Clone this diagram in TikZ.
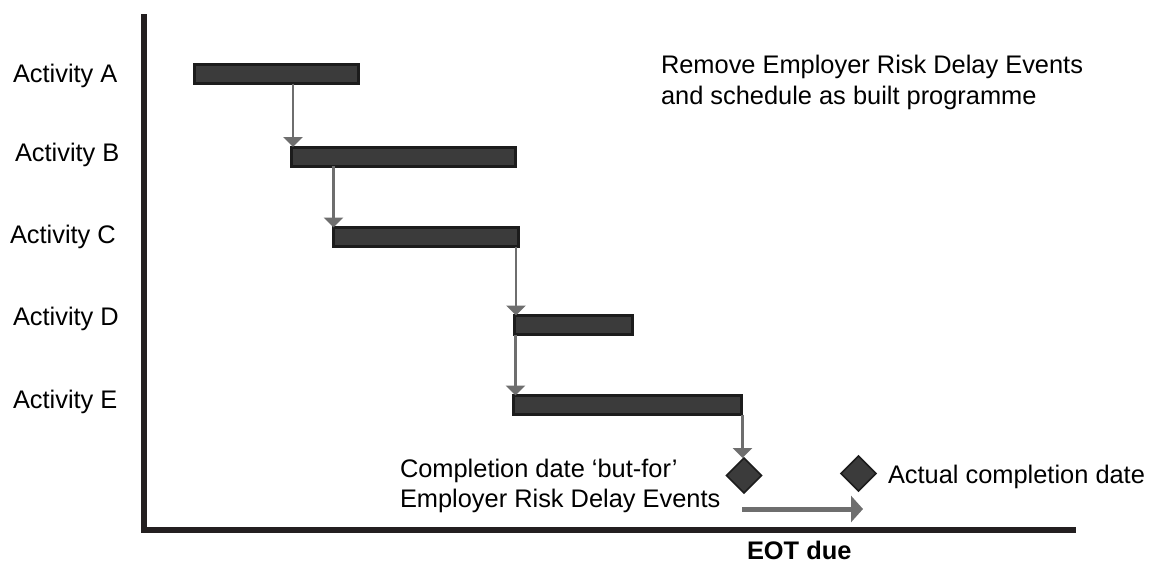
\documentclass[tikz,border=0pt]{standalone}
\usepackage{fontspec}
\setmainfont{Liberation Sans}
\usetikzlibrary{arrows.meta,shapes.geometric}
\definecolor{barfill}{HTML}{3B3B3B}
\definecolor{barline}{HTML}{1C1C1C}
\definecolor{linkgray}{HTML}{6E6E6E}
\definecolor{axisc}{HTML}{231F20}
\tikzset{
  lbl/.style={inner sep=0pt, outer sep=0pt, anchor=base west, font=\fontsize{25.4}{30}\selectfont, align=left},
  bar/.style={draw=barline, fill=barfill, line width=3pt, inner sep=0pt, outer sep=0pt, minimum height=19pt, anchor=north west},
  link/.style={draw=linkgray, line width=2.5pt, -{Triangle[length=10pt,width=19pt]}},
  bigarrow/.style={draw=linkgray, line width=5pt, -{Triangle[length=12pt,width=26pt]}},
  milestone/.style={diamond, aspect=1, draw=barline, fill=barfill, line width=1.5pt, inner sep=0pt, outer sep=0pt, minimum width=35pt, minimum height=35pt},
  axisline/.style={draw=axisc, line width=6pt, line join=miter}
}
\begin{document}
\begin{tikzpicture}[x=1pt,y=-1pt]
\useasboundingbox (0,0) rectangle (1151,563);
% axes
\coordinate (top) at (143.5,14);
\coordinate (origin) at (143.5,530);
\coordinate (right) at (1076,530);
\draw[axisline] (top) -- (origin) -- (right);
% labels
\node[lbl] (la) at (13,82) {Activity A};
\node[lbl] (lb) at (15,161) {Activity B};
\node[lbl] (lc) at (10,243) {Activity C};
\node[lbl] (ld) at (13,325) {Activity D};
\node[lbl] (le) at (13,408) {Activity E};
% bars
\node[bar, minimum width=164pt] (A) at (194.5,64.5) {};
\node[bar, minimum width=224pt] (B) at (291.5,147) {};
\node[bar, minimum width=185pt] (C) at (333.5,227.5) {};
\node[bar, minimum width=118pt] (D) at (514.5,315.5) {};
\node[bar, minimum width=228pt] (E) at (513.5,395.5) {};
% milestones
\node[milestone] (m1) at (744,475.5) {};
\node[milestone] (m2) at (858.5,473.5) {};
% links
\draw[link] ([xshift=1.5pt]B.north west |- A.south) -- ([xshift=1.5pt]B.north west);
\draw[link] (C.north west |- B.south) -- (C.north west);
\draw[link] ([xshift=1.5pt]D.north west |- C.south) -- ([xshift=1.5pt]D.north west);
\draw[link] ([xshift=2pt]E.north west |- D.south) -- ([xshift=2pt]E.north west);
\draw[link] ([xshift=-1.5pt]m1.north |- E.south) -- ([xshift=-1.5pt]m1.north);
% EOT arrow
\coordinate (eots) at (742,509);
\coordinate (eote) at (863,509);
\draw[bigarrow] (eots) -- (eote);
% texts
\node[lbl, font=\fontsize{25.4}{31}\selectfont] (note) at (661,104) {Remove Employer Risk Delay Events\\and schedule as built programme};
\node[lbl, font=\fontsize{25.4}{29.5}\selectfont] (butfor) at (400,507) {Completion date ‘but-for’\\Employer Risk Delay Events};
\node[lbl] (actual) at (888,483) {Actual completion date};
\node[lbl, font=\fontsize{25.4}{30}\selectfont\bfseries] (eot) at (747,559) {EOT due};
\end{tikzpicture}
\end{document}
